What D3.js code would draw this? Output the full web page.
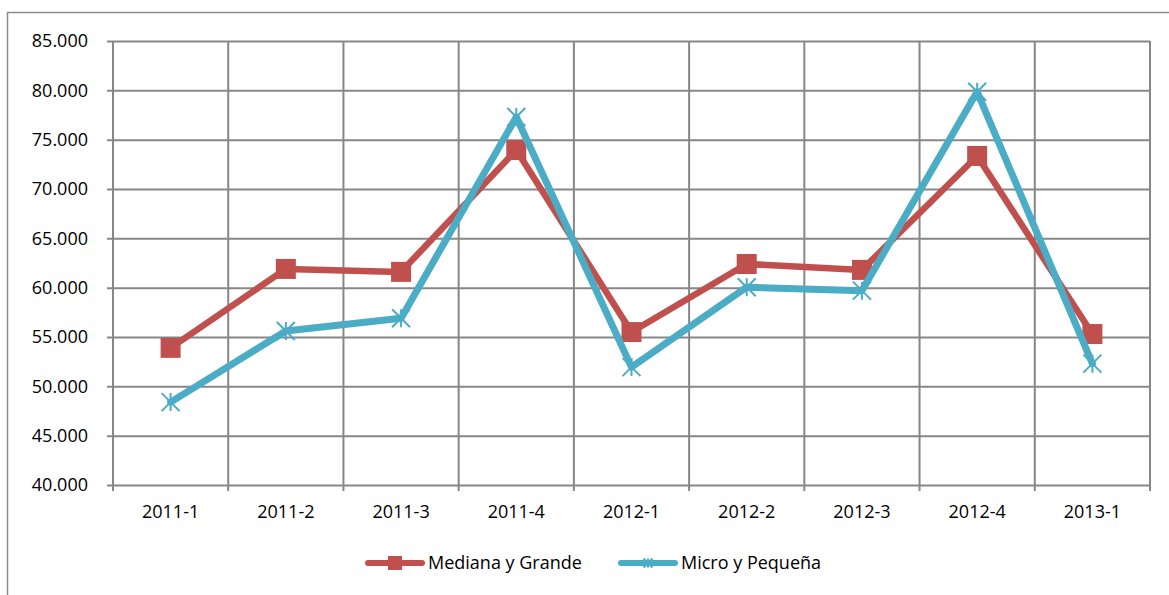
<!DOCTYPE html>
<html>
<head>
<meta charset="utf-8">
<script src="https://cdn.jsdelivr.net/npm/d3@7"></script>
<style>
  html, body { margin: 0; padding: 0; background: #fff; }
  svg { display: block; }
  text { font-family: 'Open Sans', 'Noto Sans', sans-serif; fill: #000; }
</style>
</head>
<body>
<svg id="chart" width="1169" height="595"></svg>
<script>
const categories = ['2011-1', '2011-2', '2011-3', '2011-4', '2012-1', '2012-2', '2012-3', '2012-4', '2013-1']
const medianaGrande = [53900, 61900, 61600, 73950, 55500, 62400, 61800, 73350, 55300]
const microPequena = [48400, 55600, 56900, 77300, 51950, 60050, 59700, 79850, 52300]
const yTicks = [40000, 45000, 50000, 55000, 60000, 65000, 70000, 75000, 80000, 85000]

const series = [
  { name: 'Mediana y Grande', values: medianaGrande, color: '#C0504D', marker: 'square' },
  { name: 'Micro y Pequeña', values: microPequena, color: '#4BACC6', marker: 'star' },
]

const width = 1169
const height = 595
const plot = { left: 113, right: 1150, top: 41, bottom: 485 }
const gridColor = '#878787'
const fontSize = 18

const svg = d3.select('#chart')

// outer chart frame (runs off the right/bottom edge in the original)
svg.append('rect')
  .attr('x', 7.5).attr('y', 12.5)
  .attr('width', width + 20).attr('height', height + 20)
  .attr('fill', 'none').attr('stroke', '#8c8c8c').attr('stroke-width', 1.5)

const x = d3.scaleBand().domain(categories).range([plot.left, plot.right])
const y = d3.scaleLinear().domain([40000, 85000]).range([plot.bottom, plot.top])

const fmt = (v) => d3.format(',.3f')(v / 1000).replace(',', '')

// horizontal gridlines + y axis
const yAxis = svg.append('g')
  .attr('class', 'y axis')
  .attr('transform', `translate(${plot.left}, 0)`)
  .call(d3.axisLeft(y).tickValues(yTicks).tickSize(-(plot.right - plot.left)).tickSizeOuter(0).tickPadding(25).tickFormat(fmt))

yAxis.select('.domain').remove()
yAxis.selectAll('line').attr('stroke', gridColor).attr('stroke-width', 2)
yAxis.selectAll('line').attr('x1', -6).attr('x2', plot.right - plot.left)
yAxis.selectAll('text').attr('font-size', fontSize).attr('font-family', "'Open Sans', sans-serif").attr('fill', '#000')

// vertical gridlines at category boundaries
const bounds = categories.map((c) => x(c)).concat([plot.right])
svg.append('g')
  .attr('class', 'x grid')
  .selectAll('line')
  .data(bounds)
  .enter()
  .append('line')
  .attr('x1', (d) => d).attr('x2', (d) => d)
  .attr('y1', plot.top).attr('y2', plot.bottom + 6)
  .attr('stroke', gridColor).attr('stroke-width', 2)

const xAxis = svg.append('g')
  .attr('class', 'x axis')
  .attr('transform', `translate(0, ${plot.bottom})`)
  .call(d3.axisBottom(x).tickSize(0).tickPadding(20))
xAxis.select('.domain').remove()
xAxis.selectAll('text').attr('font-size', fontSize).attr('font-family', "'Open Sans', sans-serif").attr('fill', '#000')

const cx = (i) => x(categories[i]) + x.bandwidth() / 2

function drawMarker(g, type, color, px, py, s) {
  if (type === 'square') {
    g.append('rect')
      .attr('x', px - s / 2).attr('y', py - s / 2)
      .attr('width', s).attr('height', s)
      .attr('fill', color)
  } else {
    const h = s / 2
    const path = `M${px - h},${py - h}L${px + h},${py + h}M${px - h},${py + h}L${px + h},${py - h}M${px},${py - h}L${px},${py + h}`
    g.append('path').attr('d', path).attr('stroke', color).attr('stroke-width', 2).attr('fill', 'none')
  }
}

const line = d3.line().x((d, i) => cx(i)).y((d) => y(d))

series.forEach((s) => {
  const g = svg.append('g').attr('class', 'series')
  g.append('path')
    .datum(s.values)
    .attr('d', line)
    .attr('fill', 'none')
    .attr('stroke', s.color)
    .attr('stroke-width', s.marker === 'star' ? 7 : 6.5)
    .attr('stroke-linejoin', 'round')
    .attr('stroke-linecap', 'round')
  s.values.forEach((v, i) => drawMarker(g, s.marker, s.color, cx(i), y(v), s.marker === 'square' ? 20 : 18))
})

// legend
const legendItems = [
  { x0: 368, text: 428 },
  { x0: 621, text: 681 },
]
const ly = 563
series.forEach((s, i) => {
  const g = svg.append('g').attr('class', 'legend')
  const li = legendItems[i]
  g.append('line')
    .attr('x1', li.x0).attr('x2', li.x0 + 54)
    .attr('y1', ly).attr('y2', ly)
    .attr('stroke', s.color).attr('stroke-width', 6).attr('stroke-linecap', 'round')
  drawMarker(g, s.marker, s.color, li.x0 + 27, ly, s.marker === 'square' ? 14 : 9)
  g.append('text')
    .attr('x', li.text).attr('y', ly)
    .attr('dy', '0.35em')
    .attr('font-size', fontSize)
    .text(s.name)
})
</script>
</body>
</html>
